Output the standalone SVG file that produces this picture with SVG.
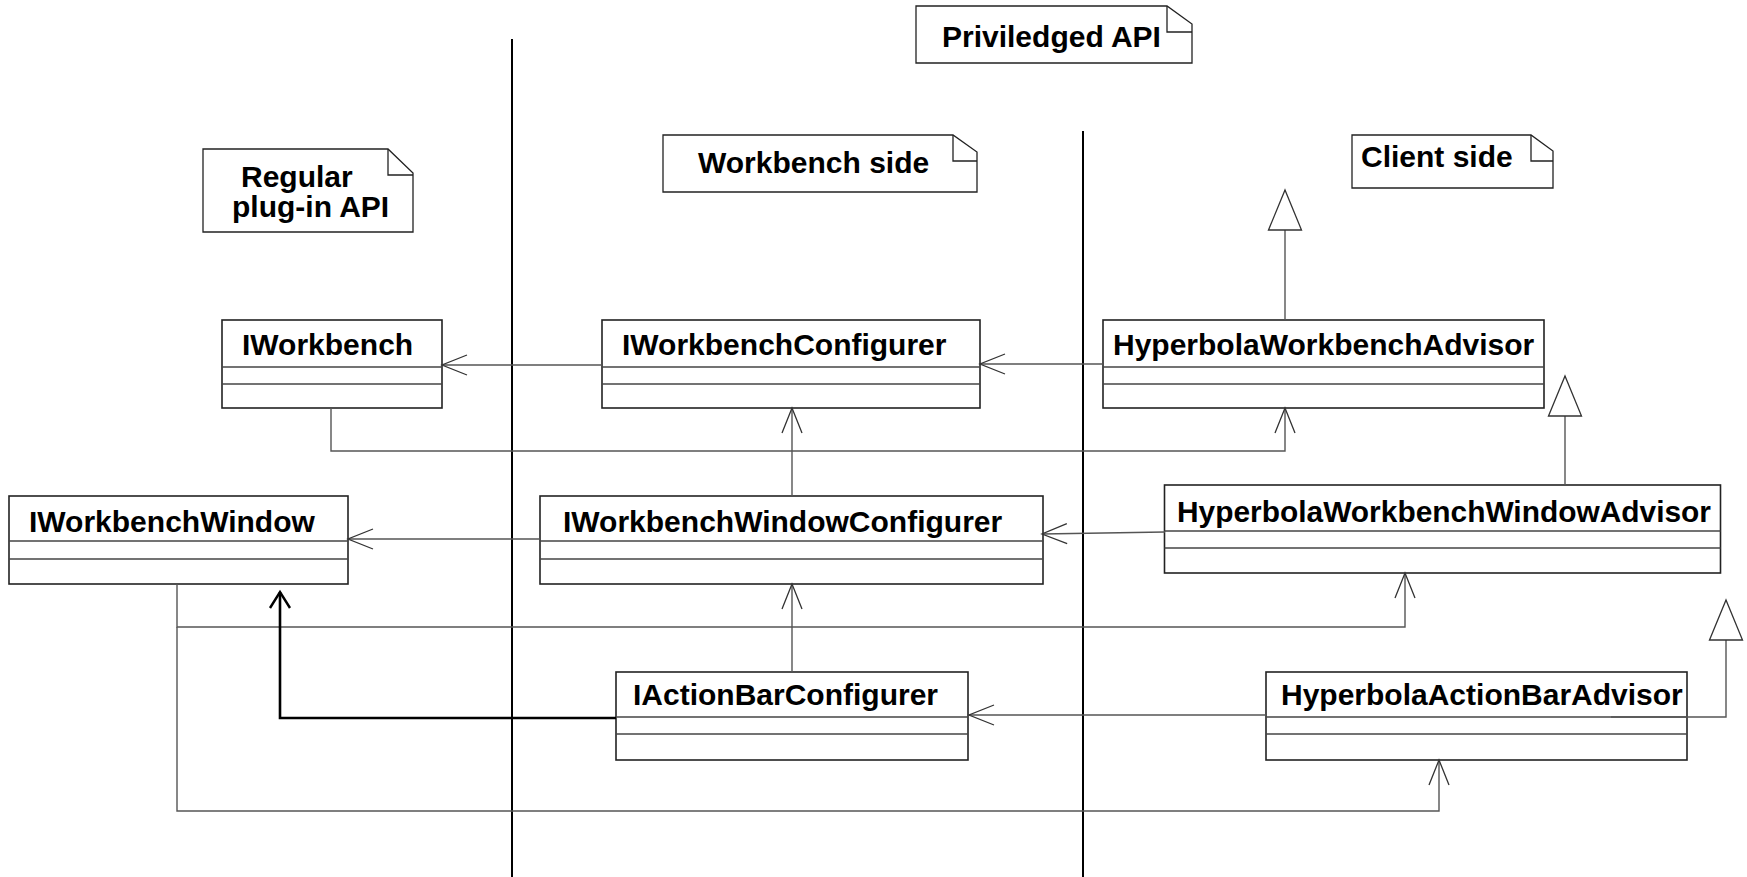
<svg xmlns="http://www.w3.org/2000/svg" width="1747" height="877" viewBox="0 0 1747 877">
<style>
text{font-family:"Liberation Sans",Arial,sans-serif;font-weight:bold;font-size:30px;fill:#000}
.box{fill:#fff;stroke:#222;stroke-width:1.6}
.sep{stroke:#444;stroke-width:1.4}
.note{fill:#fff;stroke:#222;stroke-width:1.3}
.fold{fill:none;stroke:#222;stroke-width:1.3}
.c{fill:none;stroke:#555;stroke-width:1.4}
.thick{fill:none;stroke:#000;stroke-width:2.6}
.lane{stroke:#000;stroke-width:2}
</style>
<defs>
<marker id="open" markerUnits="userSpaceOnUse" markerWidth="32" markerHeight="26" viewBox="-28 -13 32 26" refX="0" refY="0" orient="auto">
<path d="M-25,-10 L0,0 L-25,10" fill="none" stroke="#333" stroke-width="1.3"/>
</marker>
<marker id="openThick" markerUnits="userSpaceOnUse" markerWidth="24" markerHeight="26" viewBox="-20 -13 24 26" refX="0" refY="0" orient="auto">
<path d="M-16,-10 L0,0 L-16,10" fill="none" stroke="#000" stroke-width="2.4"/>
</marker>
<marker id="tri" markerUnits="userSpaceOnUse" markerWidth="46" markerHeight="40" viewBox="-43 -20 46 40" refX="0" refY="0" orient="auto">
<path d="M-40,-16.5 L0,0 L-40,16.5 Z" fill="#fff" stroke="#333" stroke-width="1.3"/>
</marker>
</defs>

<g id="lanes">
<line class="lane" x1="512" y1="39" x2="512" y2="877"/>
<line class="lane" x1="1083" y1="131" x2="1083" y2="877"/>
</g>

<g id="note-priviledged">
<path class="note" d="M916,6 H1167 L1192,24 V63 H916 Z"/>
<path class="fold" d="M1167,6 V32 H1192"/>
<text x="942" y="47">Priviledged API</text>
</g>
<g id="note-regular">
<path class="note" d="M203,149 H388 L413,173 V232 H203 Z"/>
<path class="fold" d="M388,149 V175 H413"/>
<text x="241" y="187">Regular</text>
<text x="232" y="217">plug-in API</text>
</g>
<g id="note-workbench">
<path class="note" d="M663,135 H953 L977,152 V192 H663 Z"/>
<path class="fold" d="M953,135 V161 H977"/>
<text x="698" y="173">Workbench side</text>
</g>
<g id="note-client">
<path class="note" d="M1352,135 H1531 L1553,151 V188 H1352 Z"/>
<path class="fold" d="M1531,135 V161 H1553"/>
<text x="1361" y="167">Client side</text>
</g>

<g id="IWorkbench">
<rect class="box" x="222" y="320" width="220" height="88"/>
<line class="sep" x1="222" y1="367" x2="442" y2="367"/>
<line class="sep" x1="222" y1="384" x2="442" y2="384"/>
<text x="242" y="355">IWorkbench</text>
</g>
<g id="IWorkbenchConfigurer">
<rect class="box" x="602" y="320" width="378" height="88"/>
<line class="sep" x1="602" y1="367" x2="980" y2="367"/>
<line class="sep" x1="602" y1="384" x2="980" y2="384"/>
<text x="622" y="355">IWorkbenchConfigurer</text>
</g>
<g id="HyperbolaWorkbenchAdvisor">
<rect class="box" x="1103" y="320" width="441" height="88"/>
<line class="sep" x1="1103" y1="367" x2="1544" y2="367"/>
<line class="sep" x1="1103" y1="384" x2="1544" y2="384"/>
<text x="1113" y="355">HyperbolaWorkbenchAdvisor</text>
</g>
<g id="IWorkbenchWindow">
<rect class="box" x="9" y="496" width="339" height="88"/>
<line class="sep" x1="9" y1="541" x2="348" y2="541"/>
<line class="sep" x1="9" y1="559" x2="348" y2="559"/>
<text x="29" y="532">IWorkbenchWindow</text>
</g>
<g id="IWorkbenchWindowConfigurer">
<rect class="box" x="540" y="496" width="503" height="88"/>
<line class="sep" x1="540" y1="541" x2="1043" y2="541"/>
<line class="sep" x1="540" y1="559" x2="1043" y2="559"/>
<text x="563" y="532">IWorkbenchWindowConfigurer</text>
</g>
<g id="HyperbolaWorkbenchWindowAdvisor">
<rect class="box" x="1164.5" y="485" width="556" height="88"/>
<line class="sep" x1="1164.5" y1="531" x2="1720.5" y2="531"/>
<line class="sep" x1="1164.5" y1="548" x2="1720.5" y2="548"/>
<text x="1177" y="522" textLength="534" lengthAdjust="spacingAndGlyphs">HyperbolaWorkbenchWindowAdvisor</text>
</g>
<g id="IActionBarConfigurer">
<rect class="box" x="616" y="672" width="352" height="88"/>
<line class="sep" x1="616" y1="717" x2="968" y2="717"/>
<line class="sep" x1="616" y1="734" x2="968" y2="734"/>
<text x="633" y="705">IActionBarConfigurer</text>
</g>
<g id="HyperbolaActionBarAdvisor">
<rect class="box" x="1266" y="672" width="421" height="88"/>
<line class="sep" x1="1266" y1="717" x2="1687" y2="717"/>
<line class="sep" x1="1266" y1="734" x2="1687" y2="734"/>
<text x="1281" y="705">HyperbolaActionBarAdvisor</text>
</g>

<g id="connectors">
<path class="c" d="M602,365 H442" marker-end="url(#open)"/>
<path class="c" d="M1103,364 H980" marker-end="url(#open)"/>
<path class="c" d="M331,408 V451 H1285 V408" marker-end="url(#open)"/>
<path class="c" d="M792,496 V408" marker-end="url(#open)"/>
<path class="c" d="M1285,320 V190" marker-end="url(#tri)"/>
<path class="c" d="M540,539 H348" marker-end="url(#open)"/>
<path class="c" d="M1165,532 L1042,534" marker-end="url(#open)"/>
<path class="c" d="M1565,485 V376" marker-end="url(#tri)"/>
<path class="c" d="M177,584 V627 H1405 V573" marker-end="url(#open)"/>
<path class="c" d="M792,672 V584" marker-end="url(#open)"/>
<path class="thick" d="M616,718 H280 V592" marker-end="url(#openThick)"/>
<path class="c" d="M1266,715 H969" marker-end="url(#open)"/>
<path class="c" d="M1611,717 H1726 V600" marker-end="url(#tri)"/>
<path class="c" d="M177,627 V811 H1439 V760" marker-end="url(#open)"/>
</g>
</svg>
